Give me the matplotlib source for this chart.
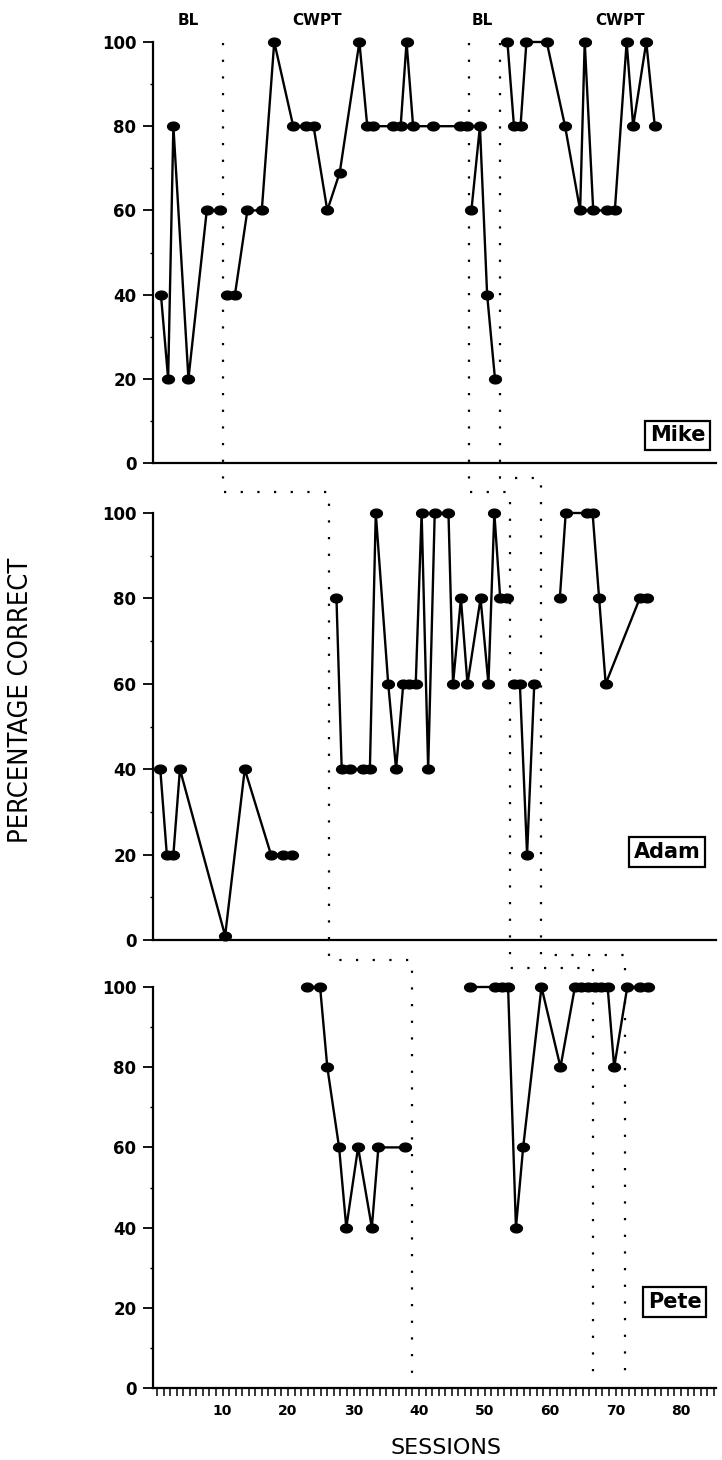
import numpy as np
import matplotlib
matplotlib.use('Agg')
import matplotlib.pyplot as plt
from matplotlib.path import Path
from matplotlib.transforms import blended_transform_factory

# --- data (session, percentage correct), split by phase ---
mike_sessions = [
  [0.6, 1.7, 2.5, 4.8, 7.6, 9.6],
  [10.7, 11.9, 13.8, 16.0, 17.9, 20.8, 22.7, 23.9, 26.0, 27.9, 30.9, 32.1, 33.0,
   36.1, 37.2, 38.1, 39.1, 42.2, 46.3, 47.3],
  [48.0, 49.3, 50.4, 51.6],
  [53.5, 54.5, 55.5, 56.4, 59.5, 62.3, 64.6, 65.3, 66.6, 68.7, 69.9, 71.7, 72.7, 74.7, 76.0],
]
mike_values = [
  [40, 20, 80, 20, 60, 60],
  [40, 40, 60, 60, 100, 80, 80, 80, 60, 69, 100, 80, 80, 80, 80, 100, 80, 80, 80, 80],
  [60, 80, 40, 20],
  [100, 80, 80, 100, 100, 80, 60, 100, 60, 60, 60, 100, 80, 100, 80],
]

adam_sessions = [
  [0.5, 1.5, 2.5, 3.5, 10.4, 13.4, 17.4, 19.3, 20.6],
  [27.4, 28.2, 29.5, 31.4, 32.5, 33.4, 35.3, 36.5, 37.6, 38.5, 39.5, 40.4, 41.4, 42.4,
   44.5, 45.2, 46.4, 47.4, 49.4, 50.6, 51.5, 52.4, 53.5],
  [54.5, 55.4, 56.5, 57.6],
  [61.5, 62.4, 65.6, 66.5, 67.5, 68.5, 73.7, 74.8],
]
adam_values = [
  [40, 20, 20, 40, 1, 40, 20, 20, 20],
  [80, 40, 40, 40, 40, 100, 60, 40, 60, 60, 60, 100, 40, 100,
   100, 60, 80, 60, 80, 60, 100, 80, 80],
  [60, 60, 20, 60],
  [80, 100, 100, 100, 80, 60, 80, 80],
]

pete_sessions = [
  [22.9, 24.9, 26.0, 27.8, 28.9, 30.7, 32.8, 33.8, 37.9],
  [47.8, 51.6, 52.6, 53.6, 54.8, 55.9, 58.7, 61.6, 63.8, 64.8, 65.8, 66.8, 67.8, 68.8,
   69.8, 71.8, 73.8, 74.9],
]
pete_values = [
  [100, 100, 80, 60, 40, 60, 40, 60, 60],
  [100, 100, 100, 100, 40, 60, 100, 80, 100, 100, 100, 100, 100, 100, 80, 100, 100, 100],
]

names = ['Mike', 'Adam', 'Pete']
phase_labels = ['BL', 'CWPT', 'BL', 'CWPT']
phase_label_x = [4.7, 24.4, 49.6, 70.7]
y_ticks = [0, 20, 40, 60, 80, 100]
x_ticks = [10, 20, 30, 40, 50, 60, 70, 80]

# phase change lines: (session x, figure-fraction y) vertices of each stepped dotted line
phase_lines = [
  ([10.0, 10.0, 26.3, 26.3, 38.9, 38.9], [0.9705, 0.663, 0.663, 0.3425, 0.3425, 0.058]),
  ([47.7, 47.7, 53.9, 53.9, 66.6, 66.6], [0.9705, 0.663, 0.663, 0.337, 0.337, 0.058]),
  ([52.4, 52.4, 58.6, 58.6, 71.5, 71.5], [0.9705, 0.6725, 0.6725, 0.346, 0.346, 0.058]),
]

W, H = 722, 1460
fig = plt.figure(figsize=(W / 100, H / 100), dpi=100)

# axes boxes in pixels: (top of 100, bottom at 0)
panel_px = [(42, 463), (513, 940), (987, 1388)]
left_px, right_px = 153, 716
xlim = ((left_px - 157) / 6.55, (right_px - 157) / 6.55)

t = np.linspace(0, 2 * np.pi, 41)
ellipse = Path(np.column_stack([1.35 * np.cos(t), np.sin(t)]))

axes = []
for top, bot in panel_px:
  ax = fig.add_axes([left_px / W, 1 - bot / H, (right_px - left_px) / W, (bot - top) / H])
  ax.set_xlim(*xlim)
  ax.set_ylim(0, 100)
  for s in ['top', 'right']:
    ax.spines[s].set_visible(False)
  ax.spines['left'].set_linewidth(1.6)
  ax.spines['bottom'].set_linewidth(1.6)
  ax.set_yticks(y_ticks)
  ax.set_yticks([10, 30, 50, 70, 90], minor=True)
  ax.tick_params(axis='y', which='major', length=7, width=1.3, pad=5, labelsize=12)
  ax.tick_params(axis='y', which='minor', length=2.5, width=1.0)
  for lab in ax.get_yticklabels():
    lab.set_fontweight('bold')
  ax.set_xticks([])
  axes.append(ax)

all_sessions = [mike_sessions, adam_sessions, pete_sessions]
all_values = [mike_values, adam_values, pete_values]
for ax, sess, vals in zip(axes, all_sessions, all_values):
  for xs, ys in zip(sess, vals):
    ax.plot(xs, ys, '-', color='black', lw=1.7, marker=ellipse, markersize=8.5,
            markerfacecolor='black', markeredgecolor='black', clip_on=False, zorder=3)

# name boxes
name_pos = [(0.932, 0.066), (0.913, 0.206), (0.927, 0.2145)]
for ax, name, (nx, ny) in zip(axes, names, name_pos):
  ax.text(nx, ny, name, transform=ax.transAxes, ha='center', va='center',
          fontsize=15, fontweight='bold',
          bbox=dict(boxstyle='square,pad=0.22', fc='white', ec='black', lw=1.6))

# phase labels above Mike
for lab, px in zip(phase_labels, phase_label_x):
  axes[0].text(px, 105.2, lab, ha='center', va='center', fontsize=11,
               fontweight='bold', clip_on=False)

# bottom x axis ticks
pete = axes[2]
pete.set_xticks(x_ticks)
pete.set_xticks(np.arange(0, 86, 1), minor=True)
pete.tick_params(axis='x', which='both', direction='out', length=5.5, width=1.1)
pete.tick_params(axis='x', which='major', pad=6, labelsize=10)
for lab in pete.get_xticklabels():
  lab.set_fontweight('bold')

# dotted phase change lines spanning the panels
trans = blended_transform_factory(pete.transData, fig.transFigure)
for xs, ys in phase_lines:
  line = plt.Line2D(xs, ys, transform=trans, color='black', lw=1.6,
                    linestyle=(0, (1, 6.5)), zorder=1)
  fig.add_artist(line)

fig.text(21 / W, 1 - 700 / H, 'PERCENTAGE CORRECT', rotation=90, ha='center', va='center',
         fontsize=19.5, fontstretch='condensed', family='DejaVu Sans')
fig.text(446 / W, 1 - 1448 / H, 'SESSIONS', ha='center', va='center', fontsize=16)

fig.savefig('out.png', dpi=100)
